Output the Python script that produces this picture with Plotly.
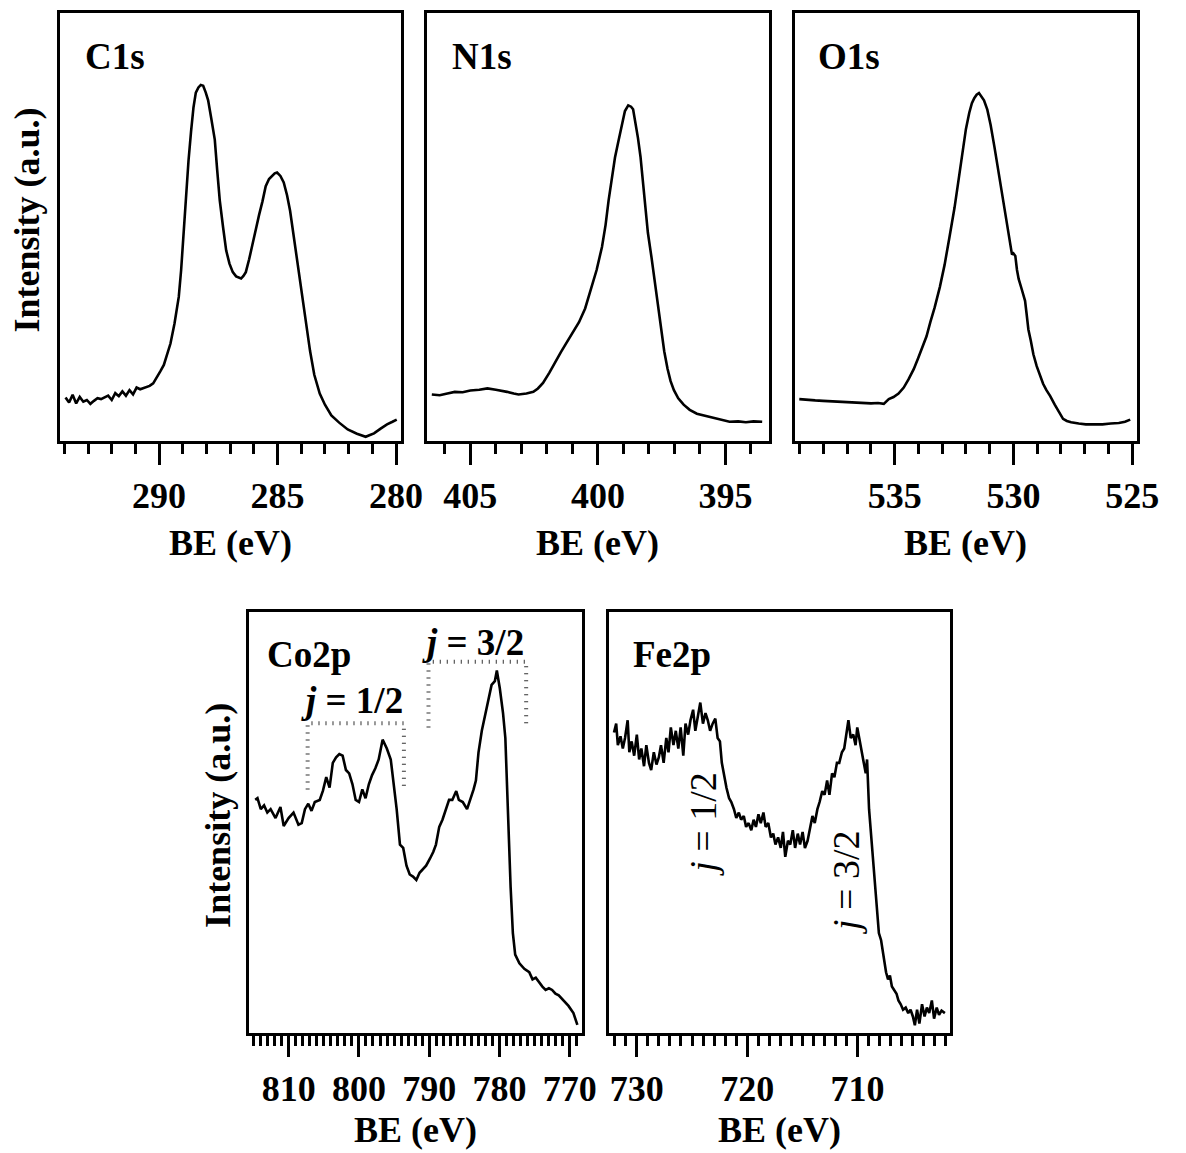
import plotly.graph_objects as go

# ---------------- spectra (binding energy in eV, intensity in a.u.) ----------------
c1s_be = [293.95, 293.8, 293.65, 293.5, 293.35, 293.2, 293.05, 292.9, 292.75, 292.6,
          292.45, 292.3, 292.15, 292.0, 291.85, 291.7, 291.55, 291.4, 291.25, 291.1,
          290.95, 290.8, 290.6, 290.4, 290.25, 290.1, 289.95, 289.8, 289.65, 289.52,
          289.35, 289.17, 289.07, 288.97, 288.86, 288.76, 288.65, 288.55, 288.45, 288.34,
          288.24, 288.14, 288.03, 287.93, 287.8, 287.65, 287.55, 287.44, 287.3, 287.17,
          287.03, 286.89, 286.75, 286.62, 286.54, 286.44, 286.34, 286.2, 286.06, 285.92,
          285.78, 285.64, 285.5, 285.36, 285.23, 285.12, 285.02, 284.88, 284.74, 284.6,
          284.47, 284.33, 284.19, 284.05, 283.91, 283.77, 283.63, 283.45, 283.22, 283.0,
          282.73, 282.4, 282.04, 281.65, 281.28, 281.1, 280.93, 280.65, 280.38, 280.15, 279.97]
c1s_int = [10.2, 9.0, 10.8, 8.8, 10.3, 9.2, 9.6, 8.7, 9.4, 10.0,
           9.8, 10.3, 10.6, 9.6, 11.2, 10.5, 11.6, 10.6, 11.9, 10.9,
           12.5, 12.1, 12.5, 12.9, 13.5, 14.8, 16.3, 17.8, 20.5, 22.8,
           27.5, 33.7, 40.0, 48.7, 57.0, 65.5, 72.5, 78.0, 81.5, 82.7,
           83.3, 83.1, 81.5, 79.7, 75.5, 70.5, 63.5, 56.3, 50.0, 44.6,
           41.5, 39.5, 38.5, 38.3, 38.0, 38.6, 39.5, 42.5, 46.2, 49.8,
           52.9, 56.0, 59.6, 61.3, 62.1, 62.6, 62.8, 62.0, 60.5, 57.5,
           53.8, 48.5, 42.9, 37.5, 32.0, 26.5, 21.1, 15.5, 11.1, 8.5,
           6.0, 4.3, 2.7, 1.7, 1.0, 1.4, 1.8, 2.9, 3.9, 4.5, 5.0]

n1s_be = [406.51, 406.2, 405.9, 405.61, 405.3, 405.0, 404.65, 404.33, 404.0, 403.8,
          403.56, 403.3, 403.11, 402.8, 402.53, 402.35, 402.15, 401.9, 401.63, 401.45,
          401.25, 401.0, 400.74, 400.5, 400.23, 400.05, 399.84, 399.7, 399.58, 399.45,
          399.33, 399.2, 399.1, 398.94, 398.81, 398.7, 398.62, 398.52, 398.43, 398.33,
          398.24, 398.14, 398.04, 397.9, 397.79, 397.66, 397.53, 397.4, 397.27, 397.15,
          397.02, 396.85, 396.64, 396.4, 396.12, 395.8, 395.48, 395.15, 394.84, 394.5,
          394.2, 393.9, 393.56]
n1s_int = [10.9, 10.7, 11.1, 11.5, 11.4, 11.8, 12.0, 12.3, 12.0, 11.8,
           11.5, 11.1, 10.9, 11.1, 11.5, 12.3, 13.6, 16.0, 19.0, 20.8,
           22.8, 25.2, 27.8, 31.0, 36.2, 40.0, 45.4, 50.5, 56.3, 61.5,
           66.3, 70.0, 73.0, 77.2, 78.5, 78.2, 77.6, 74.5, 70.9, 66.5,
           61.3, 55.0, 48.7, 43.0, 37.9, 31.8, 26.1, 21.0, 16.9, 14.0,
           11.9, 10.0, 8.5, 7.3, 6.4, 5.9, 5.4, 4.9, 4.5, 4.6,
           4.4, 4.6, 4.5]

o1s_be = [539.02, 538.7, 538.35, 538.02, 537.7, 537.35, 537.0, 536.64, 536.3, 536.0,
          535.7, 535.46, 535.25, 535.05, 534.84, 534.62, 534.42, 534.2, 534.01, 533.83,
          533.66, 533.5, 533.32, 533.1, 532.9, 532.7, 532.48, 532.3, 532.14, 532.0,
          531.86, 531.75, 531.65, 531.55, 531.45, 531.35, 531.24, 531.1, 530.96, 530.8,
          530.62, 530.45, 530.27, 530.15, 530.06, 530.0, 529.92, 529.85, 529.78, 529.65,
          529.51, 529.45, 529.37, 529.27, 529.16, 529.02, 528.88, 528.75, 528.61, 528.45,
          528.26, 528.1, 527.91, 527.75, 527.57, 527.25, 526.95, 526.6, 526.25, 525.9,
          525.56, 525.3, 525.08]
o1s_int = [9.8, 9.6, 9.5, 9.4, 9.3, 9.3, 9.1, 9.0, 8.9, 8.8,
           8.9, 8.7, 9.8, 10.3, 11.1, 12.5, 14.4, 16.8, 19.4, 22.0,
           24.5, 27.8, 31.2, 36.0, 41.2, 47.5, 54.6, 61.5, 68.0, 73.0,
           76.8, 79.0, 80.2, 81.0, 81.4, 80.7, 79.7, 77.5, 73.9, 68.8,
           62.8, 57.0, 51.1, 46.5, 43.6, 43.9, 43.3, 40.0, 37.9, 35.5,
           32.8, 30.0, 26.1, 23.5, 20.3, 17.5, 15.2, 13.4, 11.9, 10.5,
           8.5, 7.0, 5.2, 4.7, 4.4, 4.1, 3.9, 3.9, 3.9, 4.1,
           4.2, 4.5, 5.0]

co2p_be = [814.76, 814.44, 813.97, 813.50, 813.04, 812.57, 811.87, 811.17, 810.71, 810.01,
           809.31, 808.61, 808.14, 807.68, 807.21, 806.75, 806.28, 805.58, 805.12, 804.65,
           804.18, 803.72, 803.25, 802.79, 802.32, 801.85, 801.39, 800.92, 800.46, 799.99,
           799.52, 799.06, 798.59, 798.13, 797.66, 797.19, 796.63, 796.03, 795.47, 795.10,
           794.63, 794.16, 793.70, 793.23, 792.77, 792.30, 791.83, 791.37, 790.90, 790.44,
           789.88, 789.41, 789.04, 788.57, 788.11, 787.64, 787.17, 786.71, 786.15, 785.78,
           785.22, 784.61, 784.15, 783.68, 783.35, 782.98, 782.51, 782.05, 781.58, 781.12,
           780.65, 780.37, 779.95, 779.49, 779.16, 778.79, 778.41, 778.09, 777.76, 777.16,
           776.46, 775.76, 775.29, 774.83, 774.36, 773.89, 773.43, 772.96, 772.50, 772.03,
           771.56, 770.86, 770.17, 769.47, 768.91]
co2p_int = [55.4, 55.8, 53.2, 54.1, 52.4, 53.2, 51.1, 53.7, 49.2, 51.1,
            52.4, 49.5, 49.9, 53.2, 54.5, 52.8, 54.9, 55.4, 57.6, 60.8,
            58.3, 64.2, 65.5, 66.3, 65.9, 62.5, 61.7, 59.1, 55.4, 54.9,
            57.9, 55.8, 59.1, 61.3, 62.9, 65.0, 69.7, 67.6, 65.0, 60.0,
            53.2, 44.8, 44.0, 39.8, 37.7, 37.2, 36.4, 38.1, 38.9, 39.8,
            41.5, 43.1, 44.8, 49.0, 50.7, 53.2, 55.4, 55.4, 57.5, 55.4,
            54.9, 53.2, 55.4, 57.9, 60.0, 66.7, 71.8, 75.2, 79.4, 82.7,
            83.6, 86.1, 81.9, 76.0, 70.1, 51.6, 34.7, 23.8, 18.7, 16.6,
            15.3, 14.5, 12.8, 13.2, 12.0, 11.1, 10.3, 10.7, 10.3, 9.4,
            9.0, 7.8, 6.5, 4.8, 2.0]

fe2p_be = [732.07, 731.87, 731.72, 731.48, 731.27, 731.07, 730.83, 730.68, 730.47, 730.24,
           730.00, 729.79, 729.59, 729.35, 729.14, 728.90, 728.70, 728.46, 728.22, 728.01,
           727.81, 727.57, 727.33, 727.13, 726.92, 726.68, 726.47, 726.24, 726.03, 725.79,
           725.59, 725.35, 725.14, 724.90, 724.70, 724.46, 724.25, 724.01, 723.78, 723.57,
           723.36, 723.13, 722.89, 722.68, 722.47, 722.30, 722.09, 721.88, 721.64, 721.44,
           721.20, 720.99, 720.76, 720.55, 720.31, 720.10, 719.87, 719.63, 719.42, 719.21,
           718.98, 718.77, 718.53, 718.33, 718.09, 717.85, 717.64, 717.44, 717.20, 716.96,
           716.76, 716.55, 716.31, 716.10, 715.87, 715.66, 715.42, 715.21, 714.98, 714.77,
           714.53, 714.33, 714.09, 713.88, 713.64, 713.44, 713.20, 712.99, 712.76, 712.55,
           712.31, 712.10, 711.87, 711.66, 711.42, 711.21, 710.98, 710.83, 710.62, 710.39,
           710.18, 710.03, 709.85, 709.64, 709.44, 709.26, 709.14, 708.96, 708.76, 708.55,
           708.31, 708.07, 707.87, 707.72, 707.57, 707.42, 707.24, 707.07, 706.89, 706.68,
           706.47, 706.30, 706.09, 705.88, 705.64, 705.41, 705.20, 704.99, 704.81, 704.61,
           704.40, 704.16, 703.93, 703.72, 703.51, 703.27, 703.07, 702.83, 702.62, 702.39,
           702.09]
fe2p_int = [71.4, 73.5, 68.4, 70.5, 67.6, 70.1, 74.3, 66.7, 69.3, 65.9,
            70.9, 65.0, 67.6, 63.4, 68.4, 64.2, 62.5, 66.7, 63.8, 65.5,
            68.4, 64.2, 70.1, 66.7, 72.6, 68.4, 71.8, 67.6, 72.6, 65.9,
            73.5, 70.9, 74.3, 76.8, 71.8, 76.0, 78.5, 73.5, 76.0, 74.3,
            71.8, 73.5, 74.7, 70.1, 69.3, 64.2, 60.8, 58.3, 55.8, 54.9,
            53.2, 51.1, 52.4, 50.7, 51.6, 49.0, 49.9, 48.2, 50.7, 49.0,
            52.0, 49.9, 52.4, 49.0, 49.9, 46.5, 47.4, 44.8, 46.5, 44.0,
            47.8, 41.9, 45.7, 44.8, 48.2, 44.0, 47.4, 44.8, 47.8, 44.0,
            45.7, 48.2, 51.6, 49.9, 53.2, 54.9, 57.5, 56.6, 60.0, 56.6,
            61.7, 60.8, 64.2, 64.2, 66.7, 67.6, 71.8, 74.3, 70.1, 70.9,
            68.4, 72.6, 70.1, 66.7, 64.2, 61.7, 65.0, 53.2, 46.5, 38.1,
            29.7, 23.8, 22.1, 19.6, 17.0, 14.5, 12.8, 13.7, 11.1, 10.3,
            9.4, 7.8, 6.9, 5.6, 6.1, 4.8, 5.6, 4.0, 1.9, 5.6,
            2.3, 6.9, 4.0, 6.1, 4.8, 7.8, 3.5, 6.1, 4.4, 5.4,
            4.8]

# spin-orbit brackets for Co2p (j = 1/2 and j = 3/2 doublet regions)
co_j12_be = [807.3, 807.3, 793.6, 793.6]
co_j12_int = [57.9, 73.6, 73.6, 57.9]
co_j32_be = [790.1, 790.1, 776.2, 776.2]
co_j32_int = [72.6, 88.2, 88.2, 72.6]

# ---------------- panel layout ----------------
FONT = "Liberation Serif, Times New Roman, Times, serif"
W, H = 1186, 1153

panels = [
    # name, be, intensity, x range, major dtick, x domain, y domain
    ("C1s", c1s_be, c1s_int, [294.2, 279.8], 5, [0.0512, 0.3443], [0.6175, 0.9883]),
    ("N1s", n1s_be, n1s_int, [406.7, 393.3], 5, [0.3668, 0.6605], [0.6175, 0.9883]),
    ("O1s", o1s_be, o1s_int, [539.2, 524.8], 5, [0.6830, 0.9767], [0.6175, 0.9883]),
    ("Co2p", co2p_be, co2p_int, [815.6, 768.3], 10, [0.2142, 0.4997], [0.1038, 0.4692]),
    ("Fe2p", fe2p_be, fe2p_int, [732.5, 701.6], 10, [0.5234, 0.8164], [0.1038, 0.4692]),
]
label_pos = {"C1s": 293.2, "N1s": 405.8, "O1s": 538.3, "Co2p": 813.3, "Fe2p": 730.5}

fig = go.Figure()
layout = dict(
    width=W, height=H, margin=dict(l=0, r=0, t=0, b=0),
    paper_bgcolor="white", plot_bgcolor="white", showlegend=False,
    font=dict(family=FONT, color="black"),
)
annotations = []

for i, (name, be, inten, xr, dt, xd, yd) in enumerate(panels, start=1):
    xa = "x" if i == 1 else f"x{i}"
    ya = "y" if i == 1 else f"y{i}"
    fig.add_trace(go.Scatter(x=be, y=inten, mode="lines", xaxis=xa, yaxis=ya,
                             line=dict(color="black", width=2.6), hoverinfo="skip"))
    layout["xaxis" if i == 1 else f"xaxis{i}"] = dict(
        domain=xd, range=xr, anchor=ya, showline=True, linecolor="black", linewidth=3,
        mirror=True, ticks="outside", ticklen=21, tickwidth=3, tickcolor="black",
        tick0=0, dtick=dt, showgrid=False, zeroline=False,
        tickfont=dict(family=FONT, size=36, color="black", weight="bold"),
        ticklabelstandoff=0,
        minor=dict(dtick=1, tick0=0, ticks="outside", ticklen=10, tickwidth=3,
                   tickcolor="black", showgrid=False),
    )
    layout["yaxis" if i == 1 else f"yaxis{i}"] = dict(
        domain=yd, range=[0, 100], anchor=xa, showline=True, linecolor="black",
        linewidth=3, mirror=True, ticks="", showticklabels=False, showgrid=False,
        zeroline=False,
    )
    # element label inside each panel
    annotations.append(dict(x=label_pos[name], y=90, xref=xa, yref=ya, text=f"<b>{name}</b>",
                            showarrow=False, xanchor="left", yanchor="middle",
                            font=dict(family=FONT, size=37, color="black")))
    # x-axis title under each panel
    ytitle = 1 - (543 if i <= 3 else 1130) / H
    annotations.append(dict(x=0.5, y=ytitle, xref=f"{xa} domain", yref="paper",
                            text="<b>BE (eV)</b>", showarrow=False, xanchor="center",
                            yanchor="middle", font=dict(family=FONT, size=36, color="black")))

# y-axis titles (one per row)
for xp, yp in [(28, 220), (222, 815)]:
    annotations.append(dict(x=xp / W, y=1 - yp / H, xref="paper", yref="paper",
                            text="<b>Intensity (a.u.)</b>", textangle=-90, showarrow=False,
                            xanchor="center", yanchor="middle",
                            font=dict(family=FONT, size=36, color="black")))

# Co2p doublet brackets
for bx, by in [(co_j12_be, co_j12_int), (co_j32_be, co_j32_int)]:
    fig.add_trace(go.Scatter(x=bx, y=by, mode="lines", xaxis="x4", yaxis="y4",
                             line=dict(color="#333333", width=4, dash="1px,6px"),
                             hoverinfo="skip"))

annotations += [
    dict(x=801.0, y=79.0, xref="x4", yref="y4", text="<b><i>j</i> = 1/2</b>", showarrow=False,
         xanchor="center", yanchor="middle", font=dict(family=FONT, size=37, color="black")),
    dict(x=783.8, y=92.8, xref="x4", yref="y4", text="<b><i>j</i> = 3/2</b>", showarrow=False,
         xanchor="center", yanchor="middle", font=dict(family=FONT, size=37, color="black")),
    dict(x=724.0, y=49.5, xref="x5", yref="y5", text="<i>j</i> = 1/2", textangle=-90,
         showarrow=False, xanchor="center", yanchor="middle",
         font=dict(family=FONT, size=38, color="black")),
    dict(x=711.0, y=35.8, xref="x5", yref="y5", text="<i>j</i> = 3/2", textangle=-90,
         showarrow=False, xanchor="center", yanchor="middle",
         font=dict(family=FONT, size=38, color="black")),
]
layout["annotations"] = annotations
fig.update_layout(**layout)

fig.write_html("out.html")
